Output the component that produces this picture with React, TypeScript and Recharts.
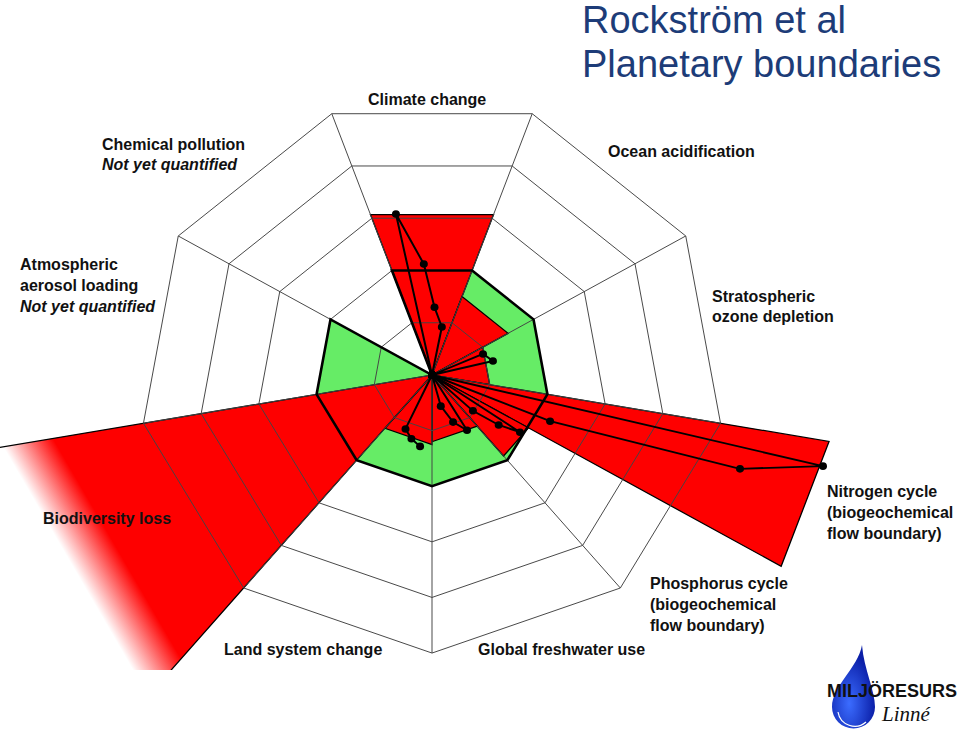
import React from 'react';
import { RadarChart, Radar, PolarGrid, PolarAngleAxis, PolarRadiusAxis } from 'recharts';

// geometry of the web (picture is a bit flatter than it is wide)
const CX = 432;
const CY = 375;
const OUTER_R = 293;
const SQUASH = 0.949;
const RADIUS_MAX = 5;

const RED = '#fe0000';
const GREEN = '#66ec66';

// sector boundaries, degrees counter-clockwise from 3 o'clock
const spokeAngles = [110, 70, 30, 350, 310, 270, 230, 190, 150];
const ringLevels = [1, 2, 3, 4, 5];
const boundaryLevel = 2;

// red wedges, in ring units (2 = the planetary boundary)
const wedgeKeys = ['climate', 'ocean', 'ozone', 'nitrogen', 'phosphorus', 'freshwater', 'land', 'biodiversity'];
const wedgeFrom = [70, 30, 350, 330, 310, 270, 230, 190];
const wedgeTo = [110, 70, 30, 350, 330, 310, 270, 230];
const wedgeValues = [3.07, 1.5, 1.0, 6.88, 1.9, 1.2, 1.25, 14];

// black trajectories
const climateAngles = [79, 79, 88, 94, 102];
const climateValues = [0, 0.88, 1.22, 2.0, 2.96];
const ozoneAngles = [23, 23.5, 13.6];
const ozoneValues = [0, 0.95, 1.07];
const nitrogenAngles = [337, 337.6, 342.2, 346.2];
const nitrogenValues = [0, 2.18, 5.52, 6.87];
const phosphorusAngles = [317, 317.3, 321.7, 325.6];
const phosphorusValues = [0, 0.95, 1.45, 1.82];
const freshwaterAngles = [285, 285, 293, 301];
const freshwaterValues = [0, 0.58, 0.92, 1.16];
const landAngles = [245, 245, 253, 261];
const landValues = [0, 1.07, 1.2, 1.3];

const tracks = [
  { key: 'trkClimate', angles: climateAngles, values: climateValues },
  { key: 'trkOzone', angles: ozoneAngles, values: ozoneValues },
  { key: 'trkNitrogen', angles: nitrogenAngles, values: nitrogenValues },
  { key: 'trkPhosphorus', angles: phosphorusAngles, values: phosphorusValues },
  { key: 'trkFreshwater', angles: freshwaterAngles, values: freshwaterValues },
  { key: 'trkLand', angles: landAngles, values: landValues },
];

type Row = { angle: number; [k: string]: number };

const rows: Row[] = [];
spokeAngles.forEach((a) => rows.push({ angle: a, safe: boundaryLevel }));
wedgeKeys.forEach((k, i) => {
  rows.push({ angle: wedgeFrom[i], [k]: 0 });
  rows.push({ angle: wedgeFrom[i], [k]: wedgeValues[i] });
  rows.push({ angle: wedgeTo[i], [k]: wedgeValues[i] });
});
tracks.forEach((t) => t.angles.forEach((a, i) => rows.push({ angle: a, [t.key]: t.values[i] })));

const ringRadii = ringLevels.map((v) => (v / RADIUS_MAX) * OUTER_R);

// open polyline through the points the Radar computed
const TrackShape = (props: any) => {
  const pts = (props.points || []).filter((p: any) => Number.isFinite(p.x) && Number.isFinite(p.y));
  const d = pts.map((p: any, i: number) => `${i ? 'L' : 'M'}${p.x},${p.y}`).join(' ');
  return <path d={d} fill="none" stroke="#000" strokeWidth={2} />;
};

const preY = (y: number) => CY + (y - CY) / SQUASH;

const axes = [
  <PolarAngleAxis key="a" dataKey="angle" type="number" domain={[0, 360]} allowDataOverflow tick={false} axisLine={false} tickLine={false} />,
  <PolarRadiusAxis key="r" type="number" domain={[0, RADIUS_MAX]} allowDataOverflow tick={false} axisLine={false} />,
];

const chartProps = {
  width: 960,
  height: 731,
  data: rows,
  cx: CX,
  cy: CY,
  innerRadius: 0,
  outerRadius: OUTER_R,
  startAngle: 0,
  endAngle: 360,
  margin: { top: 0, right: 0, bottom: 0, left: 0 },
};

const labelStyle: React.CSSProperties = {
  fontFamily: '"Liberation Sans", Arial, sans-serif',
  fontWeight: 'bold',
  fontSize: 16,
};

const labels = [
  { x: 368, y: 105, text: 'Climate change' },
  { x: 608, y: 157, text: 'Ocean acidification' },
  { x: 102, y: 150, text: 'Chemical pollution' },
  { x: 102, y: 170, text: 'Not yet quantified', italic: true },
  { x: 20, y: 270, text: 'Atmospheric' },
  { x: 20, y: 291, text: 'aerosol loading' },
  { x: 20, y: 312, text: 'Not yet quantified', italic: true },
  { x: 712, y: 302, text: 'Stratospheric' },
  { x: 712, y: 322, text: 'ozone depletion' },
  { x: 827, y: 497, text: 'Nitrogen cycle' },
  { x: 827, y: 518, text: '(biogeochemical' },
  { x: 827, y: 539, text: 'flow boundary)' },
  { x: 650, y: 589, text: 'Phosphorus cycle' },
  { x: 650, y: 610, text: '(biogeochemical' },
  { x: 650, y: 631, text: 'flow boundary)' },
  { x: 478, y: 655, text: 'Global freshwater use' },
  { x: 224, y: 655, text: 'Land system change' },
  { x: 43, y: 524, text: 'Biodiversity loss' },
];

export default function App() {
  return (
    <div style={{ position: 'absolute', left: 0, top: 0, width: 960, height: 731, background: '#fff', overflow: 'hidden' }}>
      <div style={{ position: 'absolute', left: 0, top: 0, width: 960, height: 670, overflow: 'hidden' }}>
        <div style={{ position: 'absolute', left: 0, top: 0, transform: `scale(1, ${SQUASH})`, transformOrigin: `${CX}px ${CY}px` }}>
          <RadarChart {...chartProps}>
            <defs>
              <linearGradient id="bioFade" gradientUnits="userSpaceOnUse" x1={48} y1={preY(524)} x2={90} y2={preY(502)}>
                <stop offset="0" stopColor={RED} stopOpacity={0} />
                <stop offset="1" stopColor={RED} stopOpacity={1} />
              </linearGradient>
            </defs>
            {axes}
            <Radar dataKey="safe" fill={GREEN} fillOpacity={1} stroke="none" isAnimationActive={false} />
            {wedgeKeys.map((k) => (
              <Radar
                key={k}
                dataKey={k}
                fill={k === 'biodiversity' ? 'url(#bioFade)' : RED}
                fillOpacity={1}
                stroke="#000"
                strokeWidth={1.3}
                isAnimationActive={false}
              />
            ))}
          </RadarChart>
        </div>
        <div style={{ position: 'absolute', left: 0, top: 0, transform: `scale(1, ${SQUASH})`, transformOrigin: `${CX}px ${CY}px` }}>
          <RadarChart {...chartProps}>
            {axes}
            <PolarGrid gridType="polygon" polarAngles={spokeAngles} polarRadius={ringRadii} stroke="#444" strokeWidth={1} />
            <Radar dataKey="safe" fill="none" stroke="#000" strokeWidth={2.6} isAnimationActive={false} />
            {tracks.map((t) => (
              <Radar
                key={t.key}
                dataKey={t.key}
                shape={TrackShape}
                fill="none"
                stroke="#000"
                dot={{ r: 4, fill: '#000', stroke: 'none' }}
                isAnimationActive={false}
              />
            ))}
          </RadarChart>
        </div>
      </div>
      <svg width={960} height={731} style={{ position: 'absolute', left: 0, top: 0 }}>
        <text x={582} y={33} fontFamily='"Liberation Sans", Arial, sans-serif' fontSize={38} fill="#1d3c78">Rockström et al</text>
        <text x={582} y={77} fontFamily='"Liberation Sans", Arial, sans-serif' fontSize={38} fill="#1d3c78">Planetary boundaries</text>
        {labels.map((l, i) => (
          <text key={i} x={l.x} y={l.y} style={{ ...labelStyle, fontStyle: l.italic ? 'italic' : 'normal' }} fill="#111">
            {l.text}
          </text>
        ))}
        <defs>
          <radialGradient id="drop" cx="0.4" cy="0.7" r="0.6">
            <stop offset="0" stopColor="#3b6cff" />
            <stop offset="1" stopColor="#0b1fa8" />
          </radialGradient>
        </defs>
        <path d="M862 645 C858 668 832 686 832 707 A21.5 21.5 0 0 0 875 707 C875 690 864 670 862 645 Z" fill="url(#drop)" />
        <path d="M838 712 A17 17 0 0 0 866 722" fill="none" stroke="#fff" strokeWidth={1.2} />
        <text x={827} y={697} fontFamily='"Liberation Sans", Arial, sans-serif' fontWeight="bold" fontSize={18} fill="#111">MILJÖRESURS</text>
        <text x={882} y={721} fontFamily='"Liberation Serif", "Times New Roman", serif' fontStyle="italic" fontSize={21} fill="#111">Linné</text>
      </svg>
    </div>
  );
}
